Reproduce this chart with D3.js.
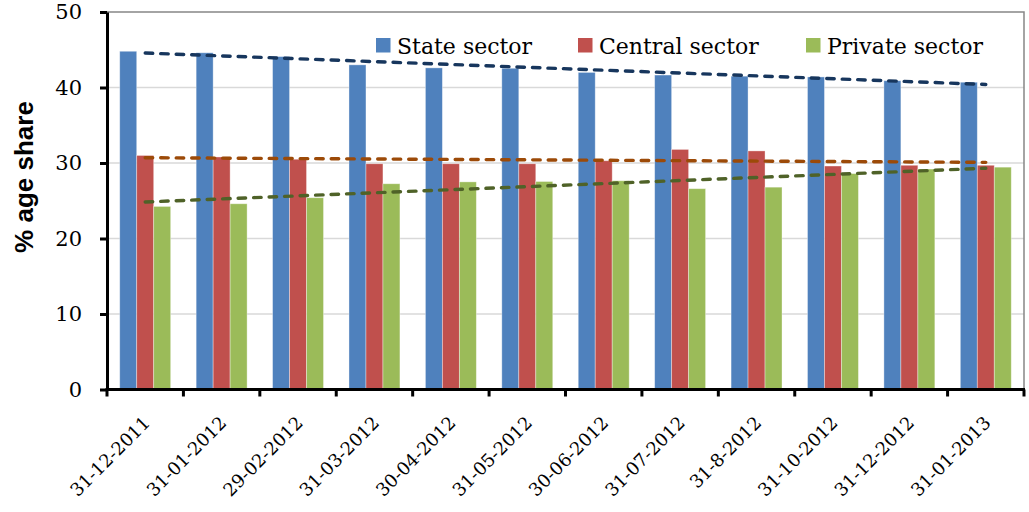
<!DOCTYPE html>
<html>
<head>
<meta charset="utf-8">
<script src="https://cdn.jsdelivr.net/npm/d3@7"></script>
<style>
  html, body { margin: 0; padding: 0; background: #fff; }
  svg { display: block; }
</style>
</head>
<body>
<svg id="chart" width="1029" height="512"></svg>
<script>
// Month-end snapshot dates
const dates = ["31-12-2011", "31-01-2012", "29-02-2012", "31-03-2012", "30-04-2012", "31-05-2012",
               "30-06-2012", "31-07-2012", "31-8-2012", "31-10-2012", "31-12-2012", "31-01-2013"];

// Percentage share by ownership sector
const stateSector   = [44.8, 44.6, 44.1, 43.0, 42.6, 42.55, 42.0, 41.65, 41.5, 41.4, 40.9, 40.7];
const centralSector = [31.0, 30.8, 30.5, 29.9, 29.9, 29.9, 30.3, 31.8, 31.6, 29.6, 29.7, 29.7];
const privateSector = [24.25, 24.6, 25.4, 27.25, 27.5, 27.55, 27.65, 26.6, 26.8, 28.6, 29.2, 29.45];

const seriesNames = ["State sector", "Central sector", "Private sector"];
const yTicks = [0, 10, 20, 30, 40, 50];

const seriesValues = [stateSector, centralSector, privateSector];
const barColors = ["#4F81BD", "#C0504D", "#9BBB59"];
const trendColors = ["#17365D", "#9C4A08", "#4F6228"];

const svg = d3.select("#chart");
const plot = { left: 107, right: 1024, top: 12, bottom: 389.5 };

const x0 = d3.scaleBand().domain(dates).range([plot.left, plot.right]).paddingInner(0).paddingOuter(0);
const x1 = d3.scaleBand().domain(seriesNames).range([0, x0.bandwidth()]).paddingInner(0).paddingOuter(0.75);
const y = d3.scaleLinear().domain([0, 50]).range([plot.bottom, plot.top]);

// Horizontal gridlines
svg.append("g")
  .selectAll("line")
  .data(yTicks.filter(t => t > 0 && t < 50))
  .join("line")
  .attr("x1", plot.left).attr("x2", plot.right)
  .attr("y1", d => y(d)).attr("y2", d => y(d))
  .attr("stroke", "#D9D9D9").attr("stroke-width", 1.5);

// Plot frame (top and right edges)
svg.append("path")
  .attr("d", `M${plot.left},${plot.top}H${plot.right}V${plot.bottom}`)
  .attr("fill", "none").attr("stroke", "#868686").attr("stroke-width", 1.5);

// Grouped bars
const rows = dates.map((d, i) => ({ date: d, values: seriesNames.map((s, k) => ({ s, k, v: seriesValues[k][i] })) }));
svg.append("g")
  .selectAll("g")
  .data(rows)
  .join("g")
  .attr("transform", d => `translate(${x0(d.date)},0)`)
  .selectAll("rect")
  .data(d => d.values)
  .join("rect")
  .attr("x", d => x1(d.s))
  .attr("y", d => y(d.v))
  .attr("width", x1.bandwidth())
  .attr("height", d => y(0) - y(d.v))
  .attr("fill", (d) => barColors[d.k])
  .attr("stroke", "rgba(255,255,255,0.45)")
  .attr("stroke-width", 0.8);

// Linear trend lines (least squares over category index)
function linearFit(vals) {
  const xs = vals.map((_, i) => i + 1);
  const mx = d3.mean(xs), my = d3.mean(vals);
  let sxy = 0, sxx = 0;
  xs.forEach((xv, i) => { sxy += (xv - mx) * (vals[i] - my); sxx += (xv - mx) * (xv - mx); });
  const slope = sxy / sxx;
  return i => my + slope * (i + 1 - mx);
}
const center = d => x0(d) + x0.bandwidth() / 2;
seriesValues.forEach((vals, k) => {
  const f = linearFit(vals);
  const first = 0, last = dates.length - 1;
  svg.append("line")
    .attr("x1", center(dates[first])).attr("y1", y(f(first)))
    .attr("x2", center(dates[last])).attr("y2", y(f(last)))
    .attr("stroke", trendColors[k])
    .attr("stroke-width", 3.4)
    .attr("stroke-linecap", "round")
    .attr("stroke-dasharray", "7.5,8");
});

// Y axis
const yAxis = svg.append("g")
  .attr("transform", `translate(${plot.left},0)`)
  .call(d3.axisLeft(y).tickValues(yTicks).tickSize(7).tickSizeOuter(0).tickPadding(18).tickFormat(d3.format("d")));
yAxis.select(".domain").attr("stroke", "#000").attr("stroke-width", 3);
yAxis.selectAll(".tick line").attr("stroke", "#000").attr("stroke-width", 3);
yAxis.selectAll(".tick text")
  .attr("font-family", "'DejaVu Serif', serif")
  .attr("font-size", 21)
  .attr("fill", "#000");

// X axis: ticks on category boundaries
const boundaries = dates.map(d => x0(d)).concat([plot.right]);
const xAxisG = svg.append("g");
xAxisG.append("line")
  .attr("x1", plot.left - 1.5).attr("x2", plot.right + 1)
  .attr("y1", plot.bottom).attr("y2", plot.bottom)
  .attr("stroke", "#000").attr("stroke-width", 3);
xAxisG.selectAll("line.tick")
  .data(boundaries)
  .join("line")
  .attr("class", "tick")
  .attr("x1", d => d).attr("x2", d => d)
  .attr("y1", plot.bottom).attr("y2", plot.bottom + 7)
  .attr("stroke", "#000").attr("stroke-width", 3);
xAxisG.selectAll("text")
  .data(dates)
  .join("text")
  .attr("transform", d => `translate(${center(d) + 6},${424}) rotate(-45)`)
  .attr("text-anchor", "end")
  .attr("font-family", "'DejaVu Serif', serif")
  .attr("font-size", 18)
  .attr("fill", "#000")
  .text(d => d);

// Y axis title
svg.append("text")
  .attr("transform", `translate(33,${177}) rotate(-90)`)
  .attr("text-anchor", "middle")
  .attr("font-family", "'Liberation Sans', Arial, sans-serif")
  .attr("font-weight", "bold")
  .attr("font-size", 26)
  .attr("fill", "#000")
  .text("% age share");

// Legend
const legendX = [376, 578, 806];
const legend = svg.append("g")
  .selectAll("g")
  .data(seriesNames)
  .join("g")
  .attr("transform", (d, i) => `translate(${legendX[i]},38)`);
legend.append("rect")
  .attr("width", 14.5).attr("height", 14.5)
  .attr("fill", (d, i) => barColors[i]);
legend.append("text")
  .attr("x", 21).attr("y", 16)
  .attr("font-family", "'DejaVu Serif', serif")
  .attr("font-size", 22)
  .attr("fill", "#000")
  .text(d => d);
</script>
</body>
</html>
